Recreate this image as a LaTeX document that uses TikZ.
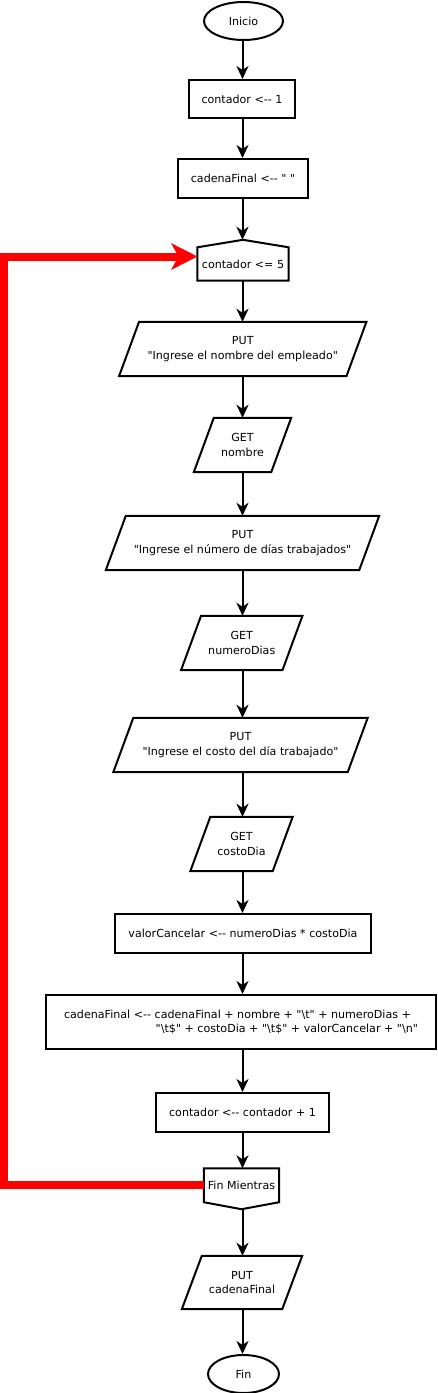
\documentclass[tikz,border=0pt]{standalone}
\usepackage{fontspec}
\setmainfont{DejaVu Sans}[Ligatures=TeXOff]
\usetikzlibrary{shapes.geometric,arrows.meta}
\newcommand\paraout[1]{\draw[frame] ([xshift=10pt]#1.north west) -- ([xshift=10pt]#1.north east) -- ([xshift=-10pt]#1.south east) -- ([xshift=-10pt]#1.south west) -- cycle;}
\begin{document}
\begin{tikzpicture}[x=1pt,y=-1pt,
  every node/.style={font=\fontsize{11.1}{14.8}\selectfont, align=center, inner sep=0pt},
  box/.style={draw, line width=2pt},
  oval/.style={draw, line width=2pt, ellipse},
  frame/.style={line width=2pt, line join=miter},
  arr/.style={line width=2pt, -{Stealth[length=13pt,width=12pt,inset=4pt]}},
  redarr/.style={draw=red, line width=8pt, line join=miter, -{Stealth[length=26pt,width=26pt,inset=7pt]}}]
\fill[white] (0,0) rectangle (437,1393);
\useasboundingbox (0,0) rectangle (437,1393);
\coordinate (col) at (242.5,0);
\coordinate (rail) at (4,0);

\node[oval, minimum width=79pt, minimum height=38pt] (ini) at (243.5,21) {Inicio};
\node[box, minimum width=106pt, minimum height=38pt] (c1) at (242,99) {contador <-{}- 1};
\node[box, minimum width=130pt, minimum height=39pt] (cf0) at (243,178.5) {cadenaFinal <-{}- " "};

\node[minimum width=91pt, minimum height=33pt] (loop) at (243,264) {contador <= 5};
\coordinate (looptop) at ([yshift=7.5pt]loop.north);
\draw[frame] (loop.south west) -- (loop.north west) -- (looptop) -- (loop.north east) -- (loop.south east) -- cycle;
\coordinate (loopin) at (197.5,256.5);

\node[minimum width=227pt, minimum height=54pt] (pn) at (242.75,349) {PUT\\"Ingrese el nombre del empleado"};
\paraout{pn}
\node[minimum width=77pt, minimum height=54pt] (gn) at (242.5,445) {GET\\nombre};
\paraout{gn}
\node[minimum width=253pt, minimum height=54pt] (pd) at (242.5,543) {PUT\\"Ingrese el número de días trabajados"};
\paraout{pd}
\node[minimum width=101pt, minimum height=54pt] (gd) at (241.75,643) {GET\\numeroDias};
\paraout{gd}
\node[minimum width=234pt, minimum height=54pt] (pc) at (240.5,745) {PUT\\"Ingrese el costo del día trabajado"};
\paraout{pc}
\node[minimum width=82pt, minimum height=54pt] (gc) at (241.5,844) {GET\\costoDia};
\paraout{gc}

\node[box, minimum width=256pt, minimum height=39pt] (vc) at (243,933.5) {valorCancelar <-{}- numeroDias * costoDia};
\node[box, minimum width=390pt, minimum height=54pt, align=right] (cf) at (241,1022) {cadenaFinal <-{}- cadenaFinal + nombre + "\textbackslash{}t" + numeroDias +\hspace*{7pt}\\"\textbackslash{}t\$" + costoDia + "\textbackslash{}t\$" + valorCancelar + "\textbackslash{}n"};
\node[box, minimum width=173pt, minimum height=39pt] (c2) at (242.5,1112.5) {contador <-{}- contador + 1};

\node[minimum width=75pt, minimum height=33.5pt] (fm) at (241.5,1185.25) {Fin Mientras};
\coordinate (fmbot) at ([yshift=-7pt]fm.south);
\draw[frame] (fm.north west) -- (fm.north east) -- (fm.south east) -- (fmbot) -- (fm.south west) -- cycle;

\node[minimum width=100pt, minimum height=53pt] (pf) at (242,1282.5) {PUT\\cadenaFinal};
\paraout{pf}
\node[oval, minimum width=71pt, minimum height=38pt] (fin) at (243.5,1374) {Fin};

\draw[arr] (ini.south -| col) -- (c1.north -| col);
\draw[arr] (c1.south -| col) -- (cf0.north -| col);
\draw[arr] (cf0.south -| col) -- (looptop -| col);
\draw[arr] (loop.south -| col) -- (pn.north -| col);
\draw[arr] (pn.south -| col) -- (gn.north -| col);
\draw[arr] (gn.south -| col) -- (pd.north -| col);
\draw[arr] (pd.south -| col) -- (gd.north -| col);
\draw[arr] (gd.south -| col) -- (pc.north -| col);
\draw[arr] (pc.south -| col) -- (gc.north -| col);
\draw[arr] (gc.south -| col) -- (vc.north -| col);
\draw[arr] (vc.south -| col) -- (cf.north -| col);
\draw[arr] (cf.south -| col) -- (c2.north -| col);
\draw[arr] (c2.south -| col) -- (fm.north -| col);
\draw[arr] (fmbot -| col) -- (pf.north -| col);
\draw[arr] (pf.south -| col) -- (fin.north -| col);

\draw[redarr] (fm.west) -- (rail |- fm.west) -- (rail |- loopin) -- (loopin);
\end{tikzpicture}
\end{document}
